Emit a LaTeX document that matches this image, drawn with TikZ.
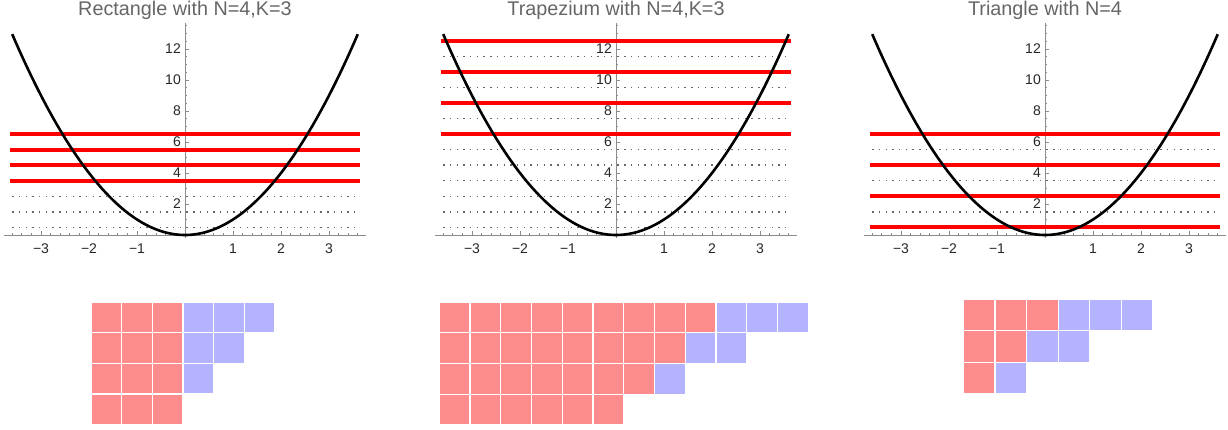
\documentclass[tikz,border=0pt]{standalone}
\usepackage{fontspec}
\setmainfont{Liberation Sans}
\definecolor{cellRed}{HTML}{FF8C8C}
\definecolor{cellBlue}{HTML}{B3B3FF}
\definecolor{titleGray}{HTML}{666666}
\definecolor{axisGray}{HTML}{8C8C8C}

\begin{document}
\begin{tikzpicture}[x=1pt, y=1pt,
        axis/.style={draw=axisGray, line width=0.8pt},
        level/.style={draw=red, line width=3.7pt},
        gapline/.style={draw=black!60, line width=1.5pt, dash pattern=on 1.4pt off 5.3pt},
        curve/.style={draw=black, line width=2.6pt},
        ticklab/.style={font=\fontsize{14}{14}\selectfont, text=black!85, inner sep=1pt},
        plottitle/.style={font=\fontsize{19.8}{20}\selectfont, text=titleGray, inner sep=0pt},
        cell/.style={draw=white, line width=1.2pt}]
  \useasboundingbox (0,0) rectangle (1228,429);

  % the three parabola panels
  \foreach \ox/\ttl/\reds/\gaps [count=\p] in {
      185/{Rectangle with N=4,K=3}/{3.5,4.5,5.5,6.5}/{0.5,1.5,2.5},
      616/{Trapezium with N=4,K=3}/{6.5,8.5,10.5,12.5}/{0.5,1.5,2.5,3.5,4.5,5.5,7.5,9.5,11.5},
      1045/{Triangle with N=4}/{0.5,2.5,4.5,6.5}/{1.5,3.5,5.5}} {
    \begin{scope}[shift={(\ox,194)}, x=48pt, y=15.5pt]
      \node[plottitle, anchor=base] (title\p) at (0pt,219pt) {\ttl};
      % axes and ticks
      \draw[axis] (-3.77,0) -- (3.77,0);
      \draw[axis] (0,-0.2) -- (0,13.7);
      \foreach \t in {-3,...,3} \draw[axis] (\t,0) -- ++(0,4pt);
      \foreach \t in {-3.6,-3.4,...,3.7} \draw[axis] (\t,0) -- ++(0,2pt);
      \foreach \t in {2,4,...,12} \draw[axis] (0,\t) -- ++(4pt,0);
      \foreach \t in {0.5,1,...,13.5} \draw[axis] (0,\t) -- ++(2pt,0);
      \foreach \t in {1,2,3} {
        \node[ticklab, anchor=base] (xp\p\t) at ([yshift=-18pt]\t,0) {\t};
        \node[ticklab, anchor=base] (xm\p\t) at ([yshift=-18pt]-\t,0) {−\t};
      }
      \foreach \t in {2,4,...,12}
        \node[ticklab, anchor=east] (yl\p\t) at ([xshift=-3pt]0,\t) {\t};
      % energy levels
      \foreach \g in \gaps \draw[gapline] (-3.6,\g) -- (3.6,\g);
      \foreach \g in \reds \draw[level] (-3.65,\g) -- (3.65,\g);
      \draw[curve] plot[domain=-3.6:3.6, samples=90, smooth] (\x,{\x*\x});
    \end{scope}
  }

  % Young diagrams below
  \foreach \bx/\by/\sz/\rows in {
      91/127/30.67/{3/6,3/5,3/4,3/3},
      439.3/127/30.75/{9/12,8/10,7/8,6/6},
      963.3/130/31.6/{3/6,2/4,1/2}} {
    \foreach \nr/\tot [count=\r] in \rows {
      \foreach \c in {1,...,\tot} {
        \ifnum\c>\nr \def\cc{cellBlue}\else\def\cc{cellRed}\fi
        \filldraw[cell, fill=\cc] (\bx+\c*\sz-\sz, \by-\r*\sz) rectangle ++(\sz,\sz);
      }
    }
  }
\end{tikzpicture}
\end{document}
